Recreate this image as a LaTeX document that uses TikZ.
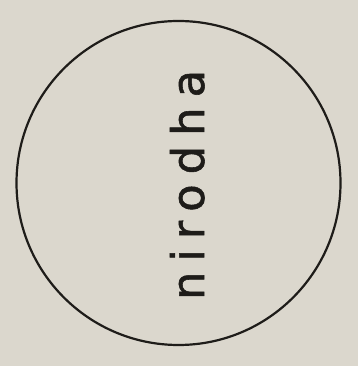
\documentclass[tikz,border=0pt]{standalone}
\usepackage{fontspec}
\usepackage{tikz}
\usepackage{xcolor}
\newfontfamily\handfont[LetterSpace=22, FakeBold=1.2]{DejaVu Sans}
\definecolor{paper}{RGB}{219,215,205}
\definecolor{ink}{RGB}{30,28,25}

\begin{document}
\begin{tikzpicture}[x=1pt, y=1pt]
    % paper
    \fill[paper] (0,0) rectangle (358,366);
    \useasboundingbox (0,0) rectangle (358,366);

    % circle
    \draw[line width=2.2pt, color=ink] (178.5,183) circle (162);

    % label
    \node[rotate=90, anchor=base, inner sep=0pt, text=ink, font=\handfont\fontsize{45}{45}\selectfont] (nirodha) at (204,181) {nirodha};
\end{tikzpicture}
\end{document}
